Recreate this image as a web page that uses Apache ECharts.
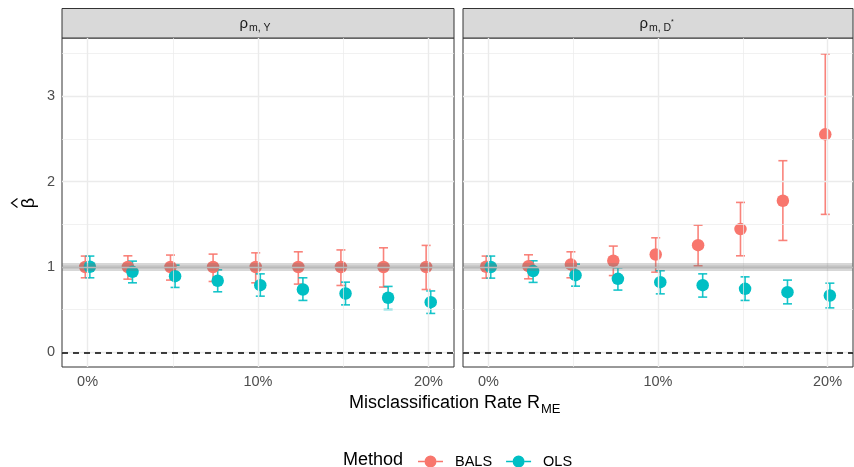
<!DOCTYPE html>
<html><head><meta charset="utf-8">
<script src="https://cdn.jsdelivr.net/npm/echarts@6/dist/echarts.min.js"></script>
<style>html,body{margin:0;padding:0;background:#fff}#c{width:854px;height:467px}</style>
</head><body><div id="c"></div>
<script>
const rates = [0, 2.5, 5, 7.5, 10, 12.5, 15, 17.5, 20];
const xTicks = [0, 10, 20];
const xMinor = [5, 15];
const yTicks = [0, 1, 2, 3];
const yMinor = [0.5, 1.5, 2.5, 3.5];
const methods = ['BALS', 'OLS'];

// panel 1: rho_{m,Y}
const balsY_est = [1.00, 1.00, 1.00, 1.00, 1.00, 1.00, 1.00, 1.00, 1.00];
const balsY_lo  = [0.874, 0.858, 0.847, 0.831, 0.815, 0.800, 0.784, 0.765, 0.737];
const balsY_hi  = [1.128, 1.131, 1.140, 1.151, 1.166, 1.178, 1.200, 1.225, 1.253];
const olsY_est  = [1.003, 0.944, 0.893, 0.839, 0.788, 0.737, 0.690, 0.640, 0.589];
const olsY_lo   = [0.874, 0.815, 0.761, 0.710, 0.659, 0.609, 0.557, 0.503, 0.457];
const olsY_hi   = [1.128, 1.069, 1.022, 0.967, 0.920, 0.874, 0.823, 0.773, 0.720];

// panel 2: rho_{m,D*}
const balsD_est = [1.003, 1.010, 1.030, 1.073, 1.147, 1.256, 1.444, 1.775, 2.553];
const balsD_lo  = [0.870, 0.862, 0.874, 0.900, 0.940, 1.014, 1.131, 1.311, 1.616];
const balsD_hi  = [1.128, 1.143, 1.178, 1.245, 1.342, 1.490, 1.756, 2.244, 3.493];
const olsD_est  = [1.000, 0.952, 0.905, 0.862, 0.823, 0.788, 0.745, 0.706, 0.667];
const olsD_lo   = [0.870, 0.820, 0.776, 0.730, 0.686, 0.648, 0.609, 0.569, 0.522];
const olsD_hi   = [1.128, 1.073, 1.034, 0.991, 0.956, 0.920, 0.885, 0.847, 0.811];

const colors = { BALS: '#F8766D', OLS: '#00BFC4' };
const panelData = [
  { BALS: [balsY_est, balsY_lo, balsY_hi], OLS: [olsY_est, olsY_lo, olsY_hi] },
  { BALS: [balsD_est, balsD_lo, balsD_hi], OLS: [olsD_est, olsD_lo, olsD_hi] }
];
const dodge = { BALS: -2.3, OLS: 2.3 };

const grids = [
  { left: 62, top: 38, width: 392, height: 329 },
  { left: 463, top: 38, width: 390, height: 329 }
];

const chart = echarts.init(document.getElementById('c'), null, { renderer: 'canvas' });
const FONT = '"Liberation Sans", Arial, Helvetica, sans-serif';

const xAxes = [], yAxes = [], series = [];
grids.forEach((g, i) => {
  xAxes.push({
    type: 'value', gridIndex: i, min: -1.5, max: 21.5,
    axisLine: { show: false }, splitLine: { show: false },
    axisTick: { show: true, customValues: xTicks, length: 4, lineStyle: { color: '#333333', width: 1 } },
    axisLabel: { customValues: xTicks, formatter: v => v + '%', fontSize: 14.5, color: '#4D4D4D', margin: 7, fontFamily: FONT }
  });
  yAxes.push({
    type: 'value', gridIndex: i, min: -0.17, max: 3.68,
    axisLine: { show: false }, splitLine: { show: false },
    axisTick: { show: i === 0, customValues: yTicks, length: 4, lineStyle: { color: '#333333', width: 1 } },
    axisLabel: { show: i === 0, customValues: yTicks, fontSize: 14.5, color: '#4D4D4D', margin: 7, fontFamily: FONT }
  });
  // grid lines
  const gl = [];
  xMinor.forEach(v => gl.push({ xAxis: v, lineStyle: { color: '#EBEBEB', width: 0.7, type: 'solid' } }));
  yMinor.forEach(v => gl.push({ yAxis: v, lineStyle: { color: '#EBEBEB', width: 0.7, type: 'solid' } }));
  xTicks.forEach(v => gl.push({ xAxis: v, lineStyle: { color: '#EBEBEB', width: 1.4, type: 'solid' } }));
  yTicks.forEach(v => gl.push({ yAxis: v, lineStyle: { color: '#EBEBEB', width: 1.4, type: 'solid' } }));
  gl.push({ yAxis: 0, lineStyle: { color: '#000000', width: 1.5, type: [6, 5] } });
  series.push({
    type: 'line', xAxisIndex: i, yAxisIndex: i, data: [], z: 1, silent: true,
    markLine: { silent: true, symbol: 'none', label: { show: false }, animation: false, data: gl }
  });
  methods.forEach(m => {
    const [est, lo, hi] = panelData[i][m];
    const off = dodge[m];
    series.push({
      name: m, type: 'custom', xAxisIndex: i, yAxisIndex: i, z: 2, silent: true,
      itemStyle: { color: colors[m] },
      data: rates.map((r, k) => [r, lo[k], hi[k]]),
      encode: { x: 0, y: [1, 2] },
      renderItem: (params, api) => {
        const x = api.value(0);
        const pHi = api.coord([x, api.value(2)]);
        const pLo = api.coord([x, api.value(1)]);
        const cx = pHi[0] + off, h = 4.5;
        const st = { stroke: colors[m], lineWidth: 1.6, opacity: 0.9 };
        return { type: 'group', children: [
          { type: 'line', shape: { x1: cx, y1: pHi[1], x2: cx, y2: pLo[1] }, style: st },
          { type: 'line', shape: { x1: cx - h, y1: pHi[1], x2: cx + h, y2: pHi[1] }, style: st },
          { type: 'line', shape: { x1: cx - h, y1: pLo[1], x2: cx + h, y2: pLo[1] }, style: st }
        ]};
      },
      animation: false
    });
    series.push({
      name: m, type: 'scatter', xAxisIndex: i, yAxisIndex: i, z: 3, silent: true,
      symbol: 'circle', symbolSize: 12.5, symbolOffset: [off, 0],
      itemStyle: { color: colors[m], opacity: 1 },
      data: rates.map((r, k) => [r, est[k]]),
      animation: false
    });
  });
  // band at 1
  series.push({
    type: 'line', xAxisIndex: i, yAxisIndex: i, data: [], z: 10, silent: true,
    markLine: { silent: true, symbol: 'none', label: { show: false }, animation: false,
      data: [
        { yAxis: 1, lineStyle: { color: 'rgba(110,110,110,0.28)', width: 8, type: 'solid' } },
        { yAxis: 1, lineStyle: { color: 'rgba(110,110,110,0.15)', width: 3.5, type: 'solid' } }
      ] }
  });
});

const iconPath = 'path://M0,5.25h6.5v1.5h-6.5z M18.5,5.25h6.5v1.5h-6.5z M6.5,6a6,6 0 1,0 12,0a6,6 0 1,0 -12,0z';

const graphic = [];
grids.forEach((g, i) => {
  graphic.push({ type: 'rect', shape: { x: g.left, y: 8.5, width: g.width, height: 29.5 },
    style: { fill: '#D9D9D9', stroke: '#333333', lineWidth: 1 }, z: 5 });
});
// strip labels
graphic.push({ type: 'text', x: 248, y: 24, style: { text: 'ρ', font: '15px ' + FONT, fill: '#1A1A1A', textAlign: 'right', textVerticalAlign: 'middle' }, z: 6 });
graphic.push({ type: 'text', x: 249, y: 28, style: { text: 'm, Y', font: '10.5px ' + FONT, fill: '#1A1A1A', textAlign: 'left', textVerticalAlign: 'middle' }, z: 6 });
graphic.push({ type: 'text', x: 648, y: 24, style: { text: 'ρ', font: '15px ' + FONT, fill: '#1A1A1A', textAlign: 'right', textVerticalAlign: 'middle' }, z: 6 });
graphic.push({ type: 'text', x: 649, y: 28, style: { text: 'm, D', font: '10.5px ' + FONT, fill: '#1A1A1A', textAlign: 'left', textVerticalAlign: 'middle' }, z: 6 });
graphic.push({ type: 'text', x: 671, y: 22, style: { text: '*', font: '7px ' + FONT, fill: '#1A1A1A', textAlign: 'left', textVerticalAlign: 'middle' }, z: 6 });
// x axis title
graphic.push({ type: 'text', x: 540, y: 403, style: { text: 'Misclassification Rate R', font: '18px ' + FONT, fill: '#000', textAlign: 'right', textVerticalAlign: 'middle' } });
graphic.push({ type: 'text', x: 541, y: 409, style: { text: 'ME', font: '13px ' + FONT, fill: '#000', textAlign: 'left', textVerticalAlign: 'middle' } });
// y axis title (beta hat)
graphic.push({ type: 'text', x: 29, y: 203, rotation: Math.PI / 2, style: { text: 'β', font: '18px ' + FONT, fill: '#000', textAlign: 'center', textVerticalAlign: 'middle' } });
graphic.push({ type: 'polyline', shape: { points: [[17.5, 198.5], [11.5, 203], [17.5, 207.5]] }, style: { stroke: '#000', lineWidth: 1.2, fill: null } });
// legend title
graphic.push({ type: 'text', x: 343, y: 460, style: { text: 'Method', font: '18px ' + FONT, fill: '#000', textAlign: 'left', textVerticalAlign: 'middle' } });

chart.setOption({
  animation: false,
  backgroundColor: '#ffffff',
  grid: grids.map(g => Object.assign({ show: true, backgroundColor: '#ffffff', borderColor: '#333333', borderWidth: 1, containLabel: false }, g)),
  xAxis: xAxes,
  yAxis: yAxes,
  legend: {
    left: 418, top: 454, padding: 0, itemWidth: 25, itemHeight: 12, itemGap: 14,
    selectedMode: false,
    textStyle: { fontSize: 14.5, color: '#000', fontFamily: FONT, padding: [0, 0, 0, 7] },
    data: methods.map(m => ({ name: m, icon: iconPath, itemStyle: { color: colors[m] } }))
  },
  graphic: graphic,
  series: series
});
</script></body></html>
